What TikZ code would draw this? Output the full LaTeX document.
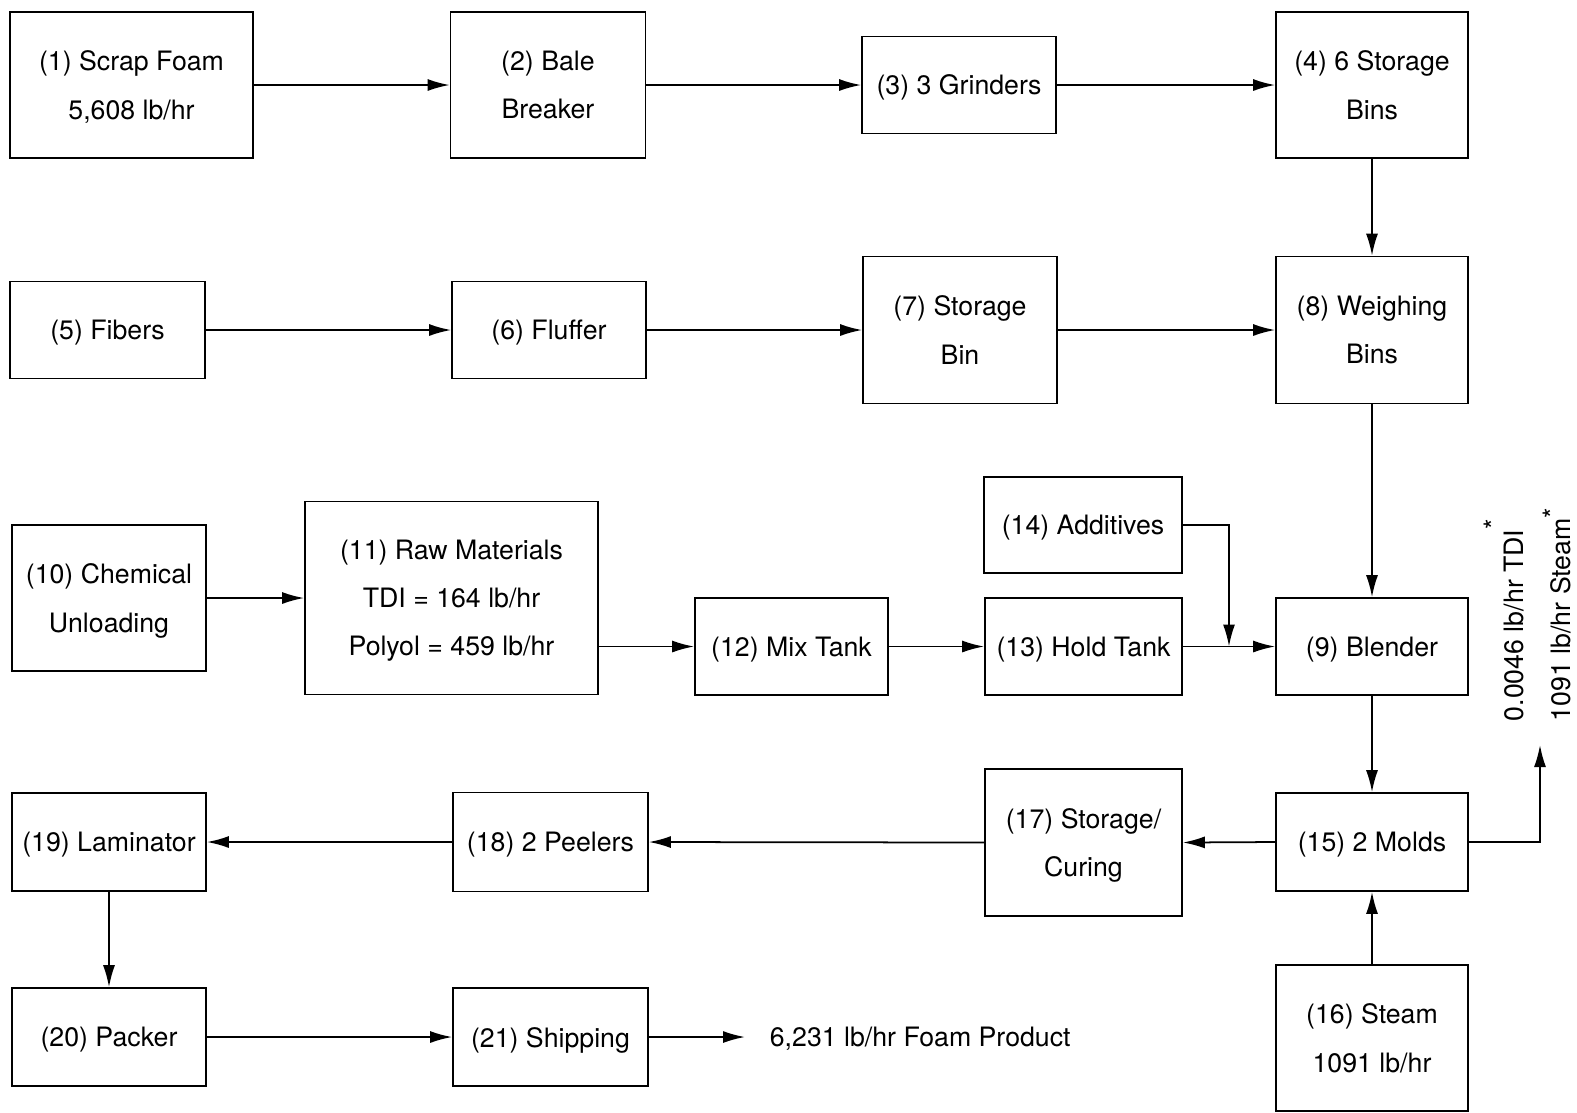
\documentclass[tikz,border=0pt]{standalone}
\usepackage{fontspec}
\setmainfont{TeX Gyre Heros}
\usetikzlibrary{arrows.meta}

\begin{document}
\begin{tikzpicture}[x=0.1mm,y=-0.1mm,line width=0.5pt,
  font=\fontsize{7.6}{13.7}\selectfont,
  >={Latex[length=2.2mm,width=1.2mm]},
  blk/.style={draw,align=center,inner sep=0pt,text depth=0pt,minimum width=19.4mm,minimum height=9.7mm},
  tall/.style={blk,minimum height=14.6mm}]
\useasboundingbox (0,0) rectangle (1577,1112);

\node[tall,minimum width=24.3mm] (b1) at (131.5,85) {(1) Scrap Foam\\5,608 lb/hr};
\node[tall,minimum width=19.5mm] (b2) at (548,85) {(2) Bale\\Breaker};
\node[blk] (b3) at (959,85) {(3) 3 Grinders};
\node[tall,minimum width=19.2mm] (b4) at (1372,85) {(4) 6 Storage\\Bins};

\node[blk,minimum width=19.5mm] (b5) at (107.5,330) {(5) Fibers};
\node[blk] (b6) at (549,330) {(6) Fluffer};
\node[tall,minimum height=14.7mm] (b7) at (960,330) {(7) Storage\\Bin};
\node[tall,minimum width=19.2mm,minimum height=14.7mm] (b8) at (1372,330) {(8) Weighing\\Bins};

\node[tall] (b10) at (109,598) {(10) Chemical\\Unloading};
\node[blk,minimum width=29.3mm,minimum height=19.3mm] (b11) at (451.5,598) {(11) Raw Materials\\TDI = 164 lb/hr\\Polyol = 459 lb/hr};
\node[blk,minimum width=19.3mm] (b12) at (791.5,646.5) {(12) Mix Tank};
\node[blk,minimum width=19.7mm] (b13) at (1083.5,646.5) {(13) Hold Tank};
\node[blk,minimum width=19.8mm,minimum height=9.6mm] (b14) at (1083,525) {(14) Additives};
\node[blk,minimum width=19.2mm] (b9) at (1372,646.5) {(9) Blender};

\node[blk,minimum height=9.8mm] (b19) at (109,842) {(19) Laminator};
\node[blk,minimum width=19.5mm,minimum height=9.9mm] (b18) at (550.5,842) {(18) 2 Peelers};
\node[tall,minimum width=19.7mm,minimum height=14.7mm] (b17) at (1083.5,842.5) {(17) Storage/\\Curing};
\node[blk,minimum width=19.2mm,minimum height=9.8mm] (b15) at (1372,842) {(15) 2 Molds};

\node[blk,minimum height=9.8mm] (b20) at (109,1037) {(20) Packer};
\node[blk,minimum width=19.5mm,minimum height=9.8mm] (b21) at (550.5,1037) {(21) Shipping};
\node[anchor=west,inner xsep=2.4mm,text depth=0pt] (prod) at (745,1037) {6,231 lb/hr Foam Product};
\node[tall,minimum width=19.2mm] (b16) at (1372,1038) {(16) Steam\\1091 lb/hr};

\node[rotate=90,anchor=base west,inner sep=0pt] (tdi) at (1523,722) {0.0046 lb/hr TDI\raisebox{5.5pt}{*}};
\node[rotate=90,anchor=base west,inner sep=0pt] (stm) at (1570,722) {1091 lb/hr Steam\raisebox{2pt}{*}};

\coordinate (join) at (1229,646.5);
\coordinate (vent) at (1540,745);

\draw[->] (b1.east) -- (b2.west);
\draw[->] (b2.east) -- (b3.west);
\draw[->] (b3.east) -- (b4.west);
\draw[->] (b4.south) -- (b8.north);
\draw[->] (b5.east) -- (b6.west);
\draw[->] (b6.east) -- (b7.west);
\draw[->] (b7.east) -- (b8.west);
\draw[->] (b8.south) -- (b9.north);
\draw[->] (b10.east) -- (b11.west);
\draw[->] (b12.west -| b11.east) -- (b12.west);
\draw[->] (b12.east) -- (b13.west);
\draw[->] (b13.east) -- (b9.west);
\draw[->] (b14.east) -| (join);
\draw[->] (b9.south) -- (b15.north);
\draw[->] (b16.north) -- (b15.south);
\draw[->] (b15.east) -| (vent);
\draw[->] (b15.west) -- (b17.east);
\draw[->] (b17.west) -- (b18.east);
\draw[->] (b18.west) -- (b19.east);
\draw[->] (b19.south) -- (b20.north);
\draw[->] (b20.east) -- (b21.west);
\draw[->] (b21.east) -- (prod.west);
\end{tikzpicture}
\end{document}
